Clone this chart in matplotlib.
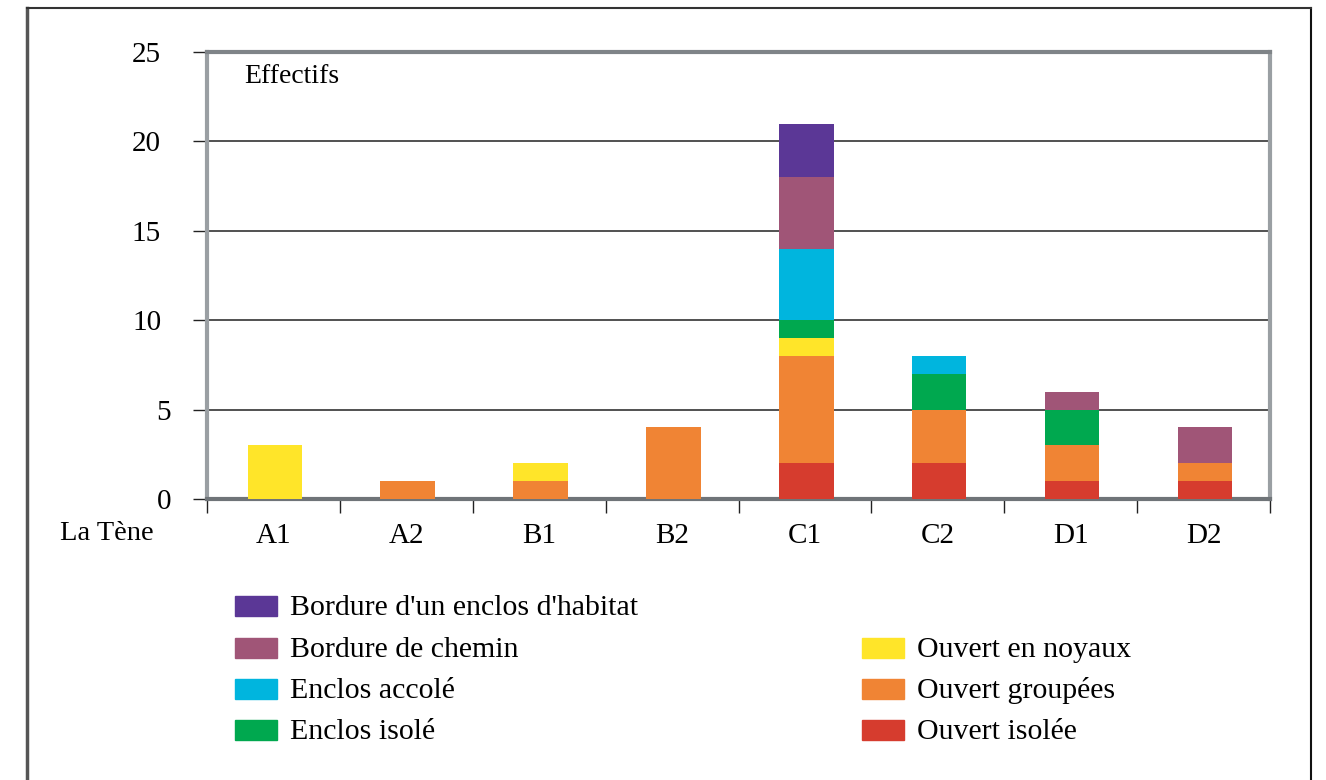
import numpy as np
import matplotlib.pyplot as plt
import matplotlib.transforms as mtransforms
from matplotlib.patches import Rectangle
from matplotlib.lines import Line2D

plt.rcParams['font.family'] = ['Liberation Serif', 'DejaVu Serif']

# data
periods = ['A1', 'A2', 'B1', 'B2', 'C1', 'C2', 'D1', 'D2']
ouvert_isolee = [0, 0, 0, 0, 2, 2, 1, 1]
ouvert_groupees = [0, 1, 1, 4, 6, 3, 2, 1]
ouvert_noyaux = [3, 0, 1, 0, 1, 0, 0, 0]
enclos_isole = [0, 0, 0, 0, 1, 2, 2, 0]
enclos_accole = [0, 0, 0, 0, 4, 1, 0, 0]
bordure_chemin = [0, 0, 0, 0, 4, 0, 1, 2]
bordure_habitat = [0, 0, 0, 0, 3, 0, 0, 0]
yticks = [0, 5, 10, 15, 20, 25]

series = [
    ('Ouvert isolée', ouvert_isolee, '#D63C2E'),
    ('Ouvert groupées', ouvert_groupees, '#F08434'),
    ('Ouvert en noyaux', ouvert_noyaux, '#FFE529'),
    ('Enclos isolé', enclos_isole, '#00A84F'),
    ('Enclos accolé', enclos_accole, '#00B5DE'),
    ('Bordure de chemin', bordure_chemin, '#A05577'),
    ("Bordure d'un enclos d'habitat", bordure_habitat, '#5B3796'),
]

W, H = 1326, 780
fig = plt.figure(figsize=(W / 100, H / 100), dpi=100)
ax = fig.add_axes([207 / W, 1 - 499 / H, (1270 - 207) / W, (499 - 52) / H])

x = np.arange(len(periods))
bottom = np.zeros(len(periods))
for name, vals, col in series:
    vals = np.array(vals, dtype=float)
    ax.bar(x + 0.01, vals, 0.41, bottom=bottom, color=col, zorder=3, linewidth=0)
    bottom += vals

ax.set_xlim(-0.5, 7.5)
ax.set_ylim(0, 25)
ax.set_yticks(yticks)
for y in yticks[1:-1]:
    ax.axhline(y, color='#222222', lw=1.1, zorder=1)

# x ticks at category boundaries, labels centred
ax.set_xticks(np.arange(-0.5, 8, 1))
ax.set_xticklabels([])
ax.set_xticks(x, minor=True)
ax.set_xticklabels(periods, minor=True, fontsize=21)
ax.tick_params(axis='x', which='minor', length=0, pad=17)
ax.tick_params(axis='x', which='major', length=10, width=1, color='#222222', direction='out')
ax.tick_params(axis='y', length=10, width=1, color='#222222', direction='out', pad=23, labelsize=21)

# single-digit labels sit a bit further right in the original
for lab, v in zip(ax.get_yticklabels(), yticks):
    if v < 10:
        lab.set_transform(lab.get_transform() +
                          mtransforms.ScaledTranslation(10 / 100, 0, fig.dpi_scale_trans))

for s in ax.spines.values():
    s.set_color('#9A9FA3')
    s.set_linewidth(3)
ax.spines['top'].set_color('#7F8488')
ax.spines['bottom'].set_color('#6F7478')

ax.text(0.035, 0.945, 'Effectifs', transform=ax.transAxes, fontsize=20, va='center')
fig.text(60 / W, 1 - 533 / H, 'La Tène', fontsize=20.5, va='center')

# outer frame
fig.add_artist(Line2D([27 / W, 27 / W], [0, 1 - 8 / H], color='#555555', lw=2.5))
fig.add_artist(Line2D([1311 / W, 1311 / W], [0, 1 - 8 / H], color='#111111', lw=1.5))
fig.add_artist(Line2D([27 / W, 1311 / W], [1 - 8 / H, 1 - 8 / H], color='#333333', lw=1.5))

# legend (two columns)
left_col = [series[6], series[5], series[4], series[3]]
right_col = [series[2], series[1], series[0]]
rows_y = [606, 648, 689, 730]
for i, (name, vals, col) in enumerate(left_col):
    yc = rows_y[i]
    fig.patches.append(Rectangle((235 / W, 1 - (yc + 10) / H), 42 / W, 20 / H,
                                 color=col, transform=fig.transFigure))
    fig.text(290 / W, 1 - (yc + 9) / H, name, fontsize=21.5, va='baseline')
for i, (name, vals, col) in enumerate(right_col):
    yc = rows_y[i + 1]
    fig.patches.append(Rectangle((862 / W, 1 - (yc + 10) / H), 42 / W, 20 / H,
                                 color=col, transform=fig.transFigure))
    fig.text(917 / W, 1 - (yc + 9) / H, name, fontsize=21.5, va='baseline')

fig.savefig('out.png', dpi=100)
